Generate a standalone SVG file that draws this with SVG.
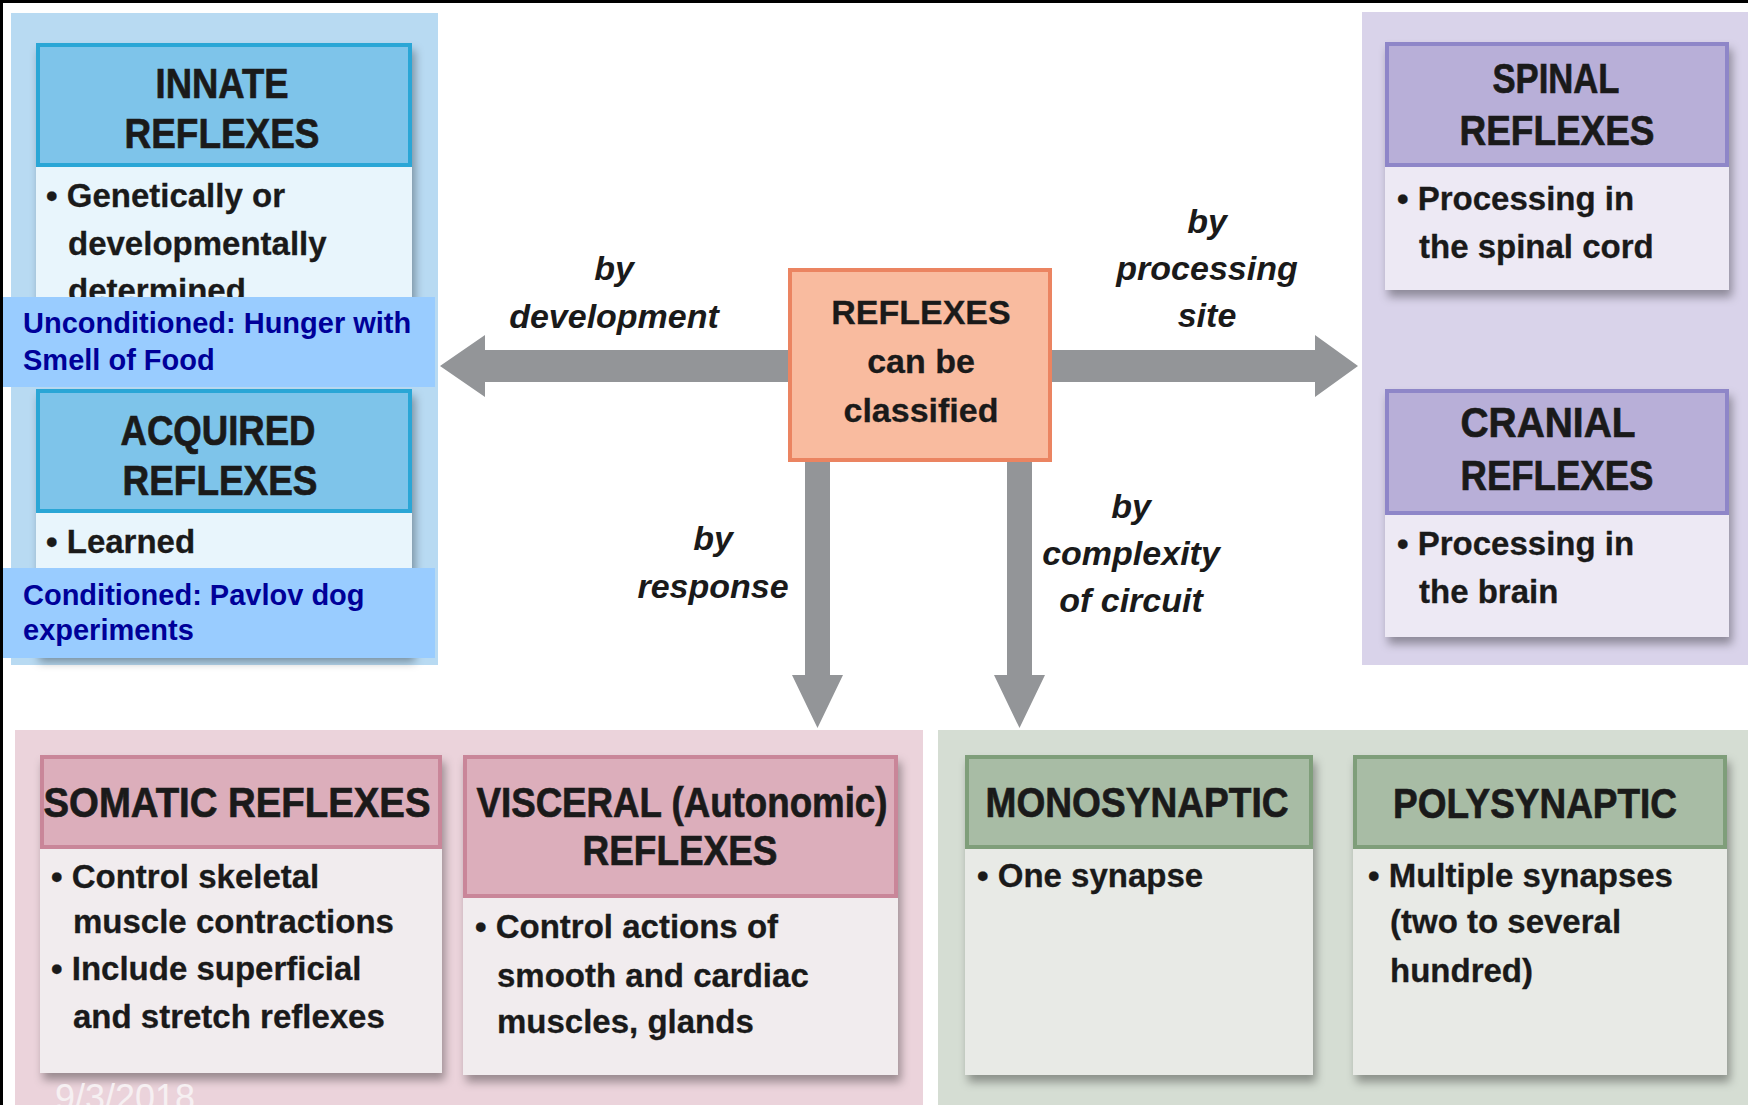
<svg xmlns="http://www.w3.org/2000/svg" width="1748" height="1105" viewBox="0 0 1748 1105">
<defs>
<filter id="sh" x="-10%" y="-10%" width="125%" height="130%">
<feDropShadow dx="3" dy="7" stdDeviation="5" flood-color="#000" flood-opacity="0.35"/>
</filter>
<style>
.hd{font-family:"Liberation Sans",Arial,sans-serif;font-weight:bold;font-size:43px;fill:#1a1a1a;stroke:#1a1a1a;stroke-width:0.7;text-anchor:middle}
.bd{font-family:"Liberation Sans",Arial,sans-serif;font-weight:bold;font-size:33px;fill:#1a1a1a;stroke:#1a1a1a;stroke-width:0.3}
.lb{font-family:"Liberation Sans",Arial,sans-serif;font-weight:bold;font-style:italic;font-size:34px;fill:#1a1a1a;text-anchor:middle}
.ct{font-family:"Liberation Sans",Arial,sans-serif;font-weight:bold;font-size:34px;fill:#1a1a1a;stroke:#1a1a1a;stroke-width:0.3;text-anchor:middle}
.ov{font-family:"Liberation Sans",Arial,sans-serif;font-weight:bold;font-size:29px;fill:#000099}
.arr{fill:#939598}
.bH{fill:#7ec4ea;stroke:#2ba6d6;stroke-width:4}
.bB{fill:#e8f5fc}
.pH{fill:#b8afd8;stroke:#8e86c8;stroke-width:4}
.pB{fill:#ede9f4}
.kH{fill:#dcaebb;stroke:#c98699;stroke-width:4}
.kB{fill:#f1ecee}
.gH{fill:#a8bca5;stroke:#7f9e7a;stroke-width:4}
.gB{fill:#e8eae6}
</style>
</defs>
<rect x="0" y="0" width="1748" height="1105" fill="#ffffff"/>
<rect x="0" y="0" width="1748" height="3" fill="#000"/>
<rect x="0" y="0" width="3" height="1105" fill="#000"/>

<g id="panels">
<rect x="11" y="13" width="427" height="652" fill="#b8daf2"/>
<rect x="1362" y="12" width="386" height="653" fill="#d9d3ea"/>
<rect x="15" y="730" width="908" height="375" fill="#ebd3db"/>
<rect x="938" y="730" width="810" height="375" fill="#d5ddd3"/>
</g>

<g id="connectors">
<polygon class="arr" points="790,350 485,350 485,335 440,366 485,397 485,382 790,382"/>
<polygon class="arr" points="1050,350 1315,350 1315,335 1358,366 1315,397 1315,382 1050,382"/>
<polygon class="arr" points="805,460 830,460 830,675 843,675 817.5,728 792,675 805,675"/>
<polygon class="arr" points="1007,460 1032,460 1032,675 1045,675 1019.5,728 994,675 1007,675"/>
<g id="labels">
<text class="lb" x="614" y="280">by</text>
<text class="lb" x="614" y="328">development</text>
<text class="lb" x="1207" y="233">by</text>
<text class="lb" x="1207" y="280">processing</text>
<text class="lb" x="1207" y="327">site</text>
<text class="lb" x="713" y="550">by</text>
<text class="lb" x="713" y="598">response</text>
<text class="lb" x="1131" y="518">by</text>
<text class="lb" x="1131" y="565">complexity</text>
<text class="lb" x="1131" y="612">of circuit</text>
</g>
</g>

<g id="center">
<rect x="790" y="270" width="260" height="190" fill="#f9bb9f" stroke="#eb8461" stroke-width="4"/>
<text class="ct" x="921" y="324">REFLEXES</text>
<text class="ct" x="921" y="373">can be</text>
<text class="ct" x="921" y="422">classified</text>
</g>

<g id="innate">
<g filter="url(#sh)">
<rect x="36" y="165" width="376" height="180" class="bB"/>
<rect x="38" y="45" width="372" height="120" class="bH"/>
</g>
<text class="hd" x="222" y="98" textLength="133" lengthAdjust="spacingAndGlyphs">INNATE</text>
<text class="hd" x="222" y="148" textLength="195" lengthAdjust="spacingAndGlyphs">REFLEXES</text>
<text class="bd" x="46" y="207">• Genetically or</text>
<text class="bd" x="68" y="255">developmentally</text>
<text class="bd" x="68" y="302">determined</text>
</g>

<g id="acquired">
<g filter="url(#sh)">
<rect x="36" y="513" width="376" height="142" class="bB"/>
<rect x="38" y="391" width="372" height="120" class="bH"/>
</g>
<text class="hd" x="218" y="445" textLength="195" lengthAdjust="spacingAndGlyphs">ACQUIRED</text>
<text class="hd" x="220" y="495" textLength="195" lengthAdjust="spacingAndGlyphs">REFLEXES</text>
<text class="bd" x="46" y="553">• Learned</text>
</g>

<g id="note-unconditioned">
<rect x="3" y="297" width="432" height="90" fill="#99ccff"/>
<text class="ov" x="23" y="333">Unconditioned: Hunger with</text>
<text class="ov" x="23" y="370">Smell of Food</text>
</g>

<g id="note-conditioned">
<rect x="3" y="568" width="432" height="90" fill="#99ccff"/>
<text class="ov" x="23" y="605">Conditioned: Pavlov dog</text>
<text class="ov" x="23" y="640">experiments</text>
</g>

<g id="spinal">
<g filter="url(#sh)">
<rect x="1385" y="167" width="344" height="123" class="pB"/>
<rect x="1387" y="44" width="340" height="121" class="pH"/>
</g>
<text class="hd" x="1556" y="93" textLength="127" lengthAdjust="spacingAndGlyphs">SPINAL</text>
<text class="hd" x="1557" y="145" textLength="195" lengthAdjust="spacingAndGlyphs">REFLEXES</text>
<text class="bd" x="1397" y="210">• Processing in</text>
<text class="bd" x="1419" y="258">the spinal cord</text>
</g>

<g id="cranial">
<g filter="url(#sh)">
<rect x="1385" y="515" width="344" height="122" class="pB"/>
<rect x="1387" y="391" width="340" height="122" class="pH"/>
</g>
<text class="hd" x="1548" y="437" textLength="175" lengthAdjust="spacingAndGlyphs">CRANIAL</text>
<text class="hd" x="1557" y="490" textLength="193" lengthAdjust="spacingAndGlyphs">REFLEXES</text>
<text class="bd" x="1397" y="555">• Processing in</text>
<text class="bd" x="1419" y="603">the brain</text>
</g>

<g id="somatic">
<g filter="url(#sh)">
<rect x="40" y="847" width="402" height="226" class="kB"/>
<rect x="42" y="757" width="398" height="90" class="kH"/>
</g>
<text class="hd" x="237" y="817" textLength="387" lengthAdjust="spacingAndGlyphs">SOMATIC REFLEXES</text>
<text class="bd" x="51" y="888">• Control skeletal</text>
<text class="bd" x="73" y="933">muscle contractions</text>
<text class="bd" x="51" y="980">• Include superficial</text>
<text class="bd" x="73" y="1028">and stretch reflexes</text>
</g>

<g id="visceral">
<g filter="url(#sh)">
<rect x="463" y="896" width="435" height="179" class="kB"/>
<rect x="465" y="757" width="431" height="139" class="kH"/>
</g>
<text class="hd" x="682" y="817" textLength="411" lengthAdjust="spacingAndGlyphs">VISCERAL (Autonomic)</text>
<text class="hd" x="680" y="865" textLength="195" lengthAdjust="spacingAndGlyphs">REFLEXES</text>
<text class="bd" x="475" y="938">• Control actions of</text>
<text class="bd" x="497" y="987">smooth and cardiac</text>
<text class="bd" x="497" y="1033">muscles, glands</text>
</g>

<g id="monosynaptic">
<g filter="url(#sh)">
<rect x="965" y="847" width="348" height="228" class="gB"/>
<rect x="967" y="757" width="344" height="90" class="gH"/>
</g>
<text class="hd" x="1137" y="817" textLength="303" lengthAdjust="spacingAndGlyphs">MONOSYNAPTIC</text>
<text class="bd" x="977" y="887">• One synapse</text>
</g>

<g id="polysynaptic">
<g filter="url(#sh)">
<rect x="1353" y="847" width="374" height="228" class="gB"/>
<rect x="1355" y="757" width="370" height="90" class="gH"/>
</g>
<text class="hd" x="1535" y="818" textLength="284" lengthAdjust="spacingAndGlyphs">POLYSYNAPTIC</text>
<text class="bd" x="1368" y="887">• Multiple synapses</text>
<text class="bd" x="1390" y="933">(two to several</text>
<text class="bd" x="1390" y="982">hundred)</text>
</g>

<text x="55" y="1110" font-family="Liberation Sans, Arial, sans-serif" font-size="36" fill="#f6f0f2">9/3/2018</text>
</svg>
